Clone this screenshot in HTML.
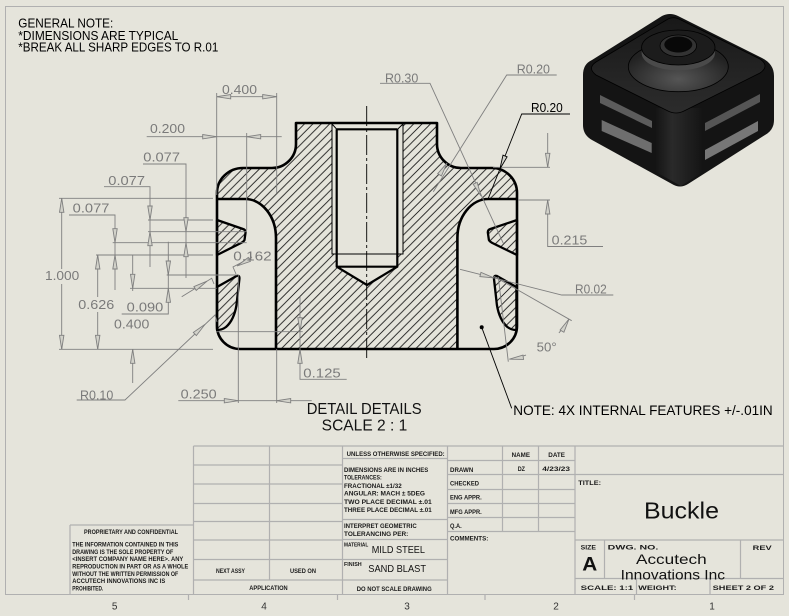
<!DOCTYPE html>
<html><head><meta charset="utf-8"><style>
html,body{margin:0;padding:0;background:#e5e4db;}
svg{display:block;}
text{font-family:"Liberation Sans",sans-serif;}
</style></head><body>
<svg width="789" height="616" viewBox="0 0 789 616" xmlns="http://www.w3.org/2000/svg">
<defs>
<pattern id="h" patternUnits="userSpaceOnUse" width="8.4" height="8.4"><path d="M-1,1 L1,-1 M0,8.4 L8.4,0 M7.4,9.4 L9.4,7.4" stroke="#111" stroke-width="0.8"/></pattern>
<path id="ar" d="M0,0 L-14,-2.2 L-14,2.2 Z" fill="#d2d2ca" stroke="#7f7f7f" stroke-width="0.9"/>
<path id="ak" d="M0,0 L-14,-2.2 L-14,2.2 Z" fill="#d2d2ca" stroke="#000" stroke-width="0.9"/>
<linearGradient id="tf" x1="0" y1="0" x2="0" y2="1"><stop offset="0" stop-color="#181818"/><stop offset="1" stop-color="#2c2c2c"/></linearGradient>
<radialGradient id="rg" cx="0.5" cy="0.75" r="0.6"><stop offset="0" stop-color="#555"/><stop offset="1" stop-color="#222"/></radialGradient>
<linearGradient id="fc" x1="0" y1="0" x2="1" y2="0"><stop offset="0" stop-color="#151515"/><stop offset="0.35" stop-color="#2a2a2a"/><stop offset="1" stop-color="#141414"/></linearGradient>
</defs>
<rect width="789" height="616" fill="#e5e4db"/>
<path d="M5.5,6.5 H783.5 V594.5 H5.5 Z" fill="none" stroke="#b0b0b0" stroke-width="1"/>

<g fill="#000" font-size="12.5">
<text x="18.3" y="27.3" textLength="95" lengthAdjust="spacingAndGlyphs">GENERAL NOTE:</text>
<text x="18.3" y="40" textLength="160" lengthAdjust="spacingAndGlyphs">*DIMENSIONS ARE TYPICAL</text>
<text x="18.3" y="51.7" textLength="200" lengthAdjust="spacingAndGlyphs">*BREAK ALL SHARP EDGES TO R.01</text>
</g>

<path fill="url(#h)" fill-rule="evenodd" d="M296,123 H437 V144 A24,24 0 0 0 461,168 H492 A25,25 0 0 1 517,193 V326 A23,23 0 0 1 494,349 H240 A23,23 0 0 1 217,326 V193 A26,25 0 0 1 243,168 H272 A24,24 0 0 0 296,144 Z
M217,199 H245 A31,39 0 0 1 276,238 V349 H240 A23,23 0 0 1 217,326 Z
M517,199 H488.4 A31,39 0 0 0 457.4,238 V349 H494 A23,23 0 0 0 517,326 Z
M332,123 H403 V254 H397.3 V266.7 L367,285 L336.7,266.7 V254 H332 Z"/>
<g fill="url(#h)" stroke="#000" stroke-width="2.3" stroke-linejoin="round">
<path d="M217,220 L243,229 Q246,230 245.5,233 L244.5,240 Q243.5,242 240,243.5 L217,255 Z"/>
<path d="M517,220 L490.4,229 Q487.4,230 487.9,233 L488.9,240 Q489.9,242 493.4,243.5 L517,255 Z"/>
<path d="M217,287 L236.5,276 Q239.8,274.8 239.4,279 L236.5,305 Q234,320 226,327 Q222,330 217,330 Z"/>
<path d="M516.4,287 L496.9,276 Q493.6,274.8 494,279 L496.9,305 Q499.4,320 507.4,327 Q511.4,330 516.4,330 Z"/>
</g>
<g fill="none" stroke="#000" stroke-width="2.6" stroke-linejoin="round">
<path d="M296,123 H437 V144 A24,24 0 0 0 461,168 H492 A25,25 0 0 1 517,193 V326 A23,23 0 0 1 494,349 H240 A23,23 0 0 1 217,326 V193 A26,25 0 0 1 243,168 H272 A24,24 0 0 0 296,144 Z"/>
<path d="M217,199 H245 A31,39 0 0 1 276,238 V349"/>
<path d="M517,199 H488.4 A31,39 0 0 0 457.4,238 V349"/>
</g>
<g fill="none" stroke="#000">
<path d="M332,123 V254 H403 V123 M332,124 L337,129.5 M403,124 L397.3,129.5" stroke-width="1"/>
<path d="M336.7,129.3 H397.3 M336.7,129.3 V266.7 H397.3 V129.3 M336.7,266.7 L367,285 L397.3,266.7" stroke-width="2.2" stroke-linejoin="round"/>
<path d="M366.7,106 V360" stroke-width="0.9" stroke-dasharray="20,3,3,3"/>
</g>

<g fill="none" stroke="#7f7f7f" stroke-width="0.9">
<path d="M216.7,93 V195 M276.7,93 V193 M216.7,96.7 H276.7"/>
<path d="M146.7,136.7 H281.7 M246.7,133 V230"/>
<path d="M143,164 H186 V278 M104,186.7 H150 V267 M69,215 H115 V290"/>
<path d="M59,198.3 H213 M148,220 H213 M148,231.7 H246.7 M112.7,242.7 H246.7 M96,255 H213 M166.7,275 H236.7 M130,288.3 H216.7 M59,349.3 H213 M216,331.7 H302.7"/>
<path d="M61.7,198.3 V269 M61.7,284 V349.3"/>
<path d="M97.7,255 V297 M97.7,312 V349.3"/>
<path d="M132.7,255 V291 M132.7,349 V383"/>
<path d="M168.3,241.7 V314 H121.7"/>
<path d="M300,296.7 V379.3 H346.7"/>
<path d="M238.3,275 V403 M276.7,349 V403 M178.3,400.7 H311.7"/>
<path d="M380,83.3 H430 L503.3,243.3"/>
<path d="M556.7,75 H506.7 L433.3,191.7"/>
<path d="M493,167.3 H550 M547.7,133 V167.3 M518,200 H550 M547.7,200 V246.5 H603"/>
<path d="M613.3,295 H561.7 L460,269.3"/>
<path d="M493.3,276 L571.7,320.7 M498.3,277 L508.3,361.7"/>
<path d="M509.4,359.2 A82,82 0 0 0 526,355.1 M558.9,332.9 A82,82 0 0 0 569,319"/>
<path d="M76.7,400 H125 L215,315 L217,322"/>
<path d="M181.7,296.7 L211.7,278.3 L214,284"/>
<path d="M252,257 L233,267 L236,274"/>
</g>
<g>
<use href="#ar" transform="translate(216.7,96.7) rotate(180)"/>
<use href="#ar" transform="translate(276.7,96.7)"/>
<use href="#ar" transform="translate(216.7,136.7)"/>
<use href="#ar" transform="translate(246.7,136.7) rotate(180)"/>
<use href="#ar" transform="translate(61.7,198.3) rotate(-90)"/>
<use href="#ar" transform="translate(61.7,349.3) rotate(90)"/>
<use href="#ar" transform="translate(186,231.7) rotate(90)"/>
<use href="#ar" transform="translate(186,242.7) rotate(-90)"/>
<use href="#ar" transform="translate(150,220) rotate(90)"/>
<use href="#ar" transform="translate(150,231.7) rotate(-90)"/>
<use href="#ar" transform="translate(115,242.7) rotate(90)"/>
<use href="#ar" transform="translate(115,255) rotate(-90)"/>
<use href="#ar" transform="translate(97.7,255) rotate(-90)"/>
<use href="#ar" transform="translate(97.7,349.3) rotate(90)"/>
<use href="#ar" transform="translate(132.7,288.3) rotate(90)"/>
<use href="#ar" transform="translate(132.7,349.3) rotate(-90)"/>
<use href="#ar" transform="translate(168.3,275) rotate(90)"/>
<use href="#ar" transform="translate(168.3,288.3) rotate(-90)"/>
<use href="#ar" transform="translate(300,331.7) rotate(90)"/>
<use href="#ar" transform="translate(300,349.3) rotate(-90)"/>
<use href="#ar" transform="translate(238.3,400.7)"/>
<use href="#ar" transform="translate(276.7,400.7) rotate(180)"/>
<use href="#ar" transform="translate(547.7,167.3) rotate(90)"/>
<use href="#ar" transform="translate(547.7,200) rotate(-90)"/>
<use href="#ar" transform="translate(481,196) rotate(65.4)"/>
<use href="#ar" transform="translate(447,163) rotate(-57.8)"/>
<use href="#ar" transform="translate(494,277.9) rotate(14.2)"/>
<use href="#ar" transform="translate(509.4,359.2) rotate(172)"/>
<use href="#ar" transform="translate(569,319) rotate(-60)"/>
<use href="#ar" transform="translate(205,324.4) rotate(-43.4)"/>
<use href="#ar" transform="translate(207,281.2) rotate(-31.5)"/>
<use href="#ar" transform="translate(237,266) rotate(152)"/>
</g>
<path d="M570,114 H521.7 L488.3,198.3" fill="none" stroke="#000" stroke-width="0.9"/>
<use href="#ak" transform="translate(499.9,169) rotate(111.6)"/>
<circle cx="481.7" cy="327.3" r="2" fill="#000"/>
<path d="M481.7,327.3 L511.7,408.3" stroke="#000" stroke-width="0.9"/>

<g fill="#7a7a7a" font-size="13">
<text x="222" y="94" textLength="35" lengthAdjust="spacingAndGlyphs">0.400</text>
<text x="150" y="133" textLength="35" lengthAdjust="spacingAndGlyphs">0.200</text>
<text x="143.3" y="161.7" textLength="36.7" lengthAdjust="spacingAndGlyphs">0.077</text>
<text x="108.3" y="185" textLength="36.7" lengthAdjust="spacingAndGlyphs">0.077</text>
<text x="72.7" y="212.7" textLength="36.7" lengthAdjust="spacingAndGlyphs">0.077</text>
<text x="45" y="280" textLength="34.3" lengthAdjust="spacingAndGlyphs">1.000</text>
<text x="78.3" y="309" textLength="36" lengthAdjust="spacingAndGlyphs">0.626</text>
<text x="126.7" y="311.7" textLength="36.6" lengthAdjust="spacingAndGlyphs">0.090</text>
<text x="114" y="328.3" textLength="35.3" lengthAdjust="spacingAndGlyphs">0.400</text>
<text x="233.3" y="260.7" textLength="38.4" lengthAdjust="spacingAndGlyphs">0.162</text>
<text x="80" y="399.3" textLength="33.3" lengthAdjust="spacingAndGlyphs">R0.10</text>
<text x="180.7" y="398.3" textLength="36" lengthAdjust="spacingAndGlyphs">0.250</text>
<text x="303.3" y="377.3" textLength="37.4" lengthAdjust="spacingAndGlyphs">0.125</text>
<text x="385" y="82.3" textLength="33.3" lengthAdjust="spacingAndGlyphs">R0.30</text>
<text x="516.7" y="73.3" textLength="33.3" lengthAdjust="spacingAndGlyphs">R0.20</text>
<text x="551.7" y="244.5" textLength="35.6" lengthAdjust="spacingAndGlyphs">0.215</text>
<text x="575" y="293.3" textLength="31.7" lengthAdjust="spacingAndGlyphs">R0.02</text>
<text x="536.7" y="351.7" textLength="20" lengthAdjust="spacingAndGlyphs">50°</text>
</g>
<text x="531" y="112" font-size="13" fill="#000" textLength="31.7" lengthAdjust="spacingAndGlyphs">R0.20</text>
<text x="513.3" y="415" font-size="14" fill="#000" textLength="259.4" lengthAdjust="spacingAndGlyphs">NOTE: 4X INTERNAL FEATURES +/-.01IN</text>
<text x="306.7" y="414" font-size="15.5" fill="#111" textLength="115" lengthAdjust="spacingAndGlyphs">DETAIL DETAILS</text>
<text x="321.7" y="430.7" font-size="15.5" fill="#111" textLength="85.6" lengthAdjust="spacingAndGlyphs">SCALE 2 : 1</text>

<g>
<path d="M662,16 Q670,12 678,16 L762,58 Q774,64 774,76 L774,120 Q774,130 765,135 L688,184 Q680,189 672,184 L592,140 Q583,135 583,125 L583,75 Q583,64 592,60 Z" fill="#141414"/>
<path d="M656,108 L703,108 L703,172 L681,186 L656,172 Z" fill="url(#fc)"/>
<path d="M668,19 Q674,16 681,20 L760,59 Q770,66 760,73 L684,111 Q676,115 668,111 L596,75 Q587,68 596,62 Z" fill="url(#tf)" stroke="#000" stroke-width="0.8"/>
<ellipse cx="678.3" cy="66.7" rx="50" ry="25" fill="url(#rg)" stroke="#000" stroke-width="0.8"/>
<ellipse cx="678.3" cy="53" rx="36.7" ry="17.5" fill="#4a4a4a"/>
<ellipse cx="678.3" cy="47.5" rx="36.7" ry="17.5" fill="#1c1c1c" stroke="#000" stroke-width="0.8"/>
<ellipse cx="678.3" cy="45.8" rx="18.3" ry="10.8" fill="#333" stroke="#000" stroke-width="0.8"/>
<ellipse cx="678.3" cy="44.5" rx="14" ry="8" fill="#080808"/>
<polygon points="600,95 652,121 652,128 600,103" fill="#5c5c5c"/>
<polygon points="601.7,120 651.7,143 651.7,153 601.7,131" fill="#6e6e6e"/>
<polygon points="705,123 760,94 760,102 705,131" fill="#555"/>
<polygon points="705,150 758,121 758,131 705,160" fill="#777"/>
</g>

<g stroke="#b0b0b0" stroke-width="1.2" fill="none">
<path d="M193.5,446 H783.5 M193.5,446 V594.5 M269.5,446 V580"/>
<path d="M193.5,465 H342.5 M193.5,484 H342.5 M193.5,503.5 H342.5 M193.5,521.5 H342.5 M193.5,540 H342.5 M193.5,559.5 H342.5 M193.5,580 H342.5"/>
<path d="M342.5,446 V594.5 M342.5,458.5 H447.5 M342.5,519.5 H447.5 M342.5,539.5 H447.5 M342.5,559.5 H447.5 M342.5,580 H447.5"/>
<path d="M447.5,446 V594.5 M447.5,460.5 H575 M447.5,474.5 H575 M447.5,489.5 H575 M447.5,503.5 H575 M447.5,517.5 H575 M447.5,531.5 H575"/>
<path d="M502.5,446 V531.5 M538.5,446 V531.5"/>
<path d="M575,446 V594.5 M575,474.5 H783.5 M575,540 H783.5 M575,578.5 H783.5"/>
<path d="M604.5,540 V578.5 M740.5,540 V578.5 M636.5,578.5 V594.5 M710,578.5 V594.5"/>
<path d="M70,525 H193.5 M70,525 V594.5"/>
<path d="M188.5,594.5 V600 M337.5,594.5 V600 M485,594.5 V600 M634.5,594.5 V600"/>
</g>

<g fill="#1a1a1a" font-size="6" font-weight="bold">
<text x="84" y="533.9" textLength="94" lengthAdjust="spacingAndGlyphs">PROPRIETARY AND CONFIDENTIAL</text>
<text x="72.3" y="546.5" textLength="106" lengthAdjust="spacingAndGlyphs">THE INFORMATION CONTAINED IN THIS</text>
<text x="72.3" y="553.9" textLength="101" lengthAdjust="spacingAndGlyphs">DRAWING IS THE SOLE PROPERTY OF</text>
<text x="72.3" y="561.2" textLength="111" lengthAdjust="spacingAndGlyphs">&lt;INSERT COMPANY NAME HERE&gt;. ANY</text>
<text x="72.3" y="568.5" textLength="116" lengthAdjust="spacingAndGlyphs">REPRODUCTION IN PART OR AS A WHOLE</text>
<text x="72.3" y="575.9" textLength="106" lengthAdjust="spacingAndGlyphs">WITHOUT THE WRITTEN PERMISSION OF</text>
<text x="72.3" y="583.2" textLength="93" lengthAdjust="spacingAndGlyphs">ACCUTECH INNOVATIONS INC IS</text>
<text x="72.3" y="590.5" textLength="31" lengthAdjust="spacingAndGlyphs">PROHIBITED.</text>
<text x="216" y="573.2" textLength="29" lengthAdjust="spacingAndGlyphs">NEXT ASSY</text>
<text x="290" y="573.2" textLength="26" lengthAdjust="spacingAndGlyphs">USED ON</text>
<text x="249.3" y="589.9" textLength="38.4" lengthAdjust="spacingAndGlyphs">APPLICATION</text>
<text x="346.7" y="456.2" textLength="98" lengthAdjust="spacingAndGlyphs">UNLESS OTHERWISE SPECIFIED:</text>
<text x="344" y="472.2" textLength="84.3" lengthAdjust="spacingAndGlyphs">DIMENSIONS ARE IN INCHES</text>
<text x="344" y="479.5" textLength="37.7" lengthAdjust="spacingAndGlyphs">TOLERANCES:</text>
<text x="344" y="487.9" textLength="57.7" lengthAdjust="spacingAndGlyphs">FRACTIONAL ±1/32</text>
<text x="344" y="495.5" textLength="81" lengthAdjust="spacingAndGlyphs">ANGULAR: MACH ± 5DEG</text>
<text x="344" y="503.9" textLength="87.7" lengthAdjust="spacingAndGlyphs">TWO PLACE DECIMAL ±.01</text>
<text x="344" y="512.2" textLength="87.7" lengthAdjust="spacingAndGlyphs">THREE PLACE DECIMAL ±.01</text>
<text x="344" y="527.9" textLength="72.7" lengthAdjust="spacingAndGlyphs">INTERPRET GEOMETRIC</text>
<text x="344" y="536.2" textLength="64.3" lengthAdjust="spacingAndGlyphs">TOLERANCING PER:</text>
<text x="344" y="546.5" textLength="24.3" lengthAdjust="spacingAndGlyphs" font-size="5">MATERIAL</text>
<text x="344" y="566.2" textLength="17.7" lengthAdjust="spacingAndGlyphs" font-size="5">FINISH</text>
<text x="356.7" y="591.2" textLength="75" lengthAdjust="spacingAndGlyphs">DO NOT SCALE DRAWING</text>
<text x="511.7" y="457.2" textLength="18.3" lengthAdjust="spacingAndGlyphs">NAME</text>
<text x="548.3" y="457.2" textLength="16.7" lengthAdjust="spacingAndGlyphs">DATE</text>
<text x="450" y="472.2" textLength="23.3" lengthAdjust="spacingAndGlyphs">DRAWN</text>
<text x="517.7" y="471.2" textLength="7.3" lengthAdjust="spacingAndGlyphs">DZ</text>
<text x="542.3" y="471.2" textLength="27.7" lengthAdjust="spacingAndGlyphs">4/23/23</text>
<text x="450" y="485.5" textLength="29" lengthAdjust="spacingAndGlyphs">CHECKED</text>
<text x="450" y="499.5" textLength="31.7" lengthAdjust="spacingAndGlyphs">ENG APPR.</text>
<text x="450" y="513.9" textLength="31.7" lengthAdjust="spacingAndGlyphs">MFG APPR.</text>
<text x="450" y="528.2" textLength="11.7" lengthAdjust="spacingAndGlyphs">Q.A.</text>
<text x="450" y="540.5" textLength="38.3" lengthAdjust="spacingAndGlyphs">COMMENTS:</text>
<text x="578.3" y="485" textLength="22.7" lengthAdjust="spacingAndGlyphs" font-size="6.5">TITLE:</text>
<text x="580.7" y="549.5" textLength="15.3" lengthAdjust="spacingAndGlyphs">SIZE</text>
<text x="607.7" y="549.5" textLength="50.6" lengthAdjust="spacingAndGlyphs" font-size="6.5">DWG. NO.</text>
<text x="752.7" y="550.2" textLength="19" lengthAdjust="spacingAndGlyphs" font-size="6.5">REV</text>
<text x="580.7" y="589.9" textLength="52.6" lengthAdjust="spacingAndGlyphs" font-size="6.5">SCALE: 1:1</text>
<text x="638.3" y="589.9" textLength="38.4" lengthAdjust="spacingAndGlyphs" font-size="6.5">WEIGHT:</text>
<text x="712.7" y="589.9" textLength="61.3" lengthAdjust="spacingAndGlyphs" font-size="6.5">SHEET 2 OF 2</text>
</g>
<g fill="#111">
<text x="371.7" y="553" font-size="10.5" textLength="53.3" lengthAdjust="spacingAndGlyphs">MILD STEEL</text>
<text x="368.3" y="572" font-size="10.5" textLength="57.7" lengthAdjust="spacingAndGlyphs">SAND BLAST</text>
<text x="644" y="518.3" font-size="23" textLength="75" lengthAdjust="spacingAndGlyphs">Buckle</text>
<text x="582.3" y="570.3" font-size="19" font-weight="bold" textLength="15" lengthAdjust="spacingAndGlyphs">A</text>
<text x="636" y="564" font-size="14" textLength="70.7" lengthAdjust="spacingAndGlyphs">Accutech</text>
<text x="620.7" y="579.3" font-size="14" textLength="104.3" lengthAdjust="spacingAndGlyphs">Innovations Inc</text>
</g>
<g fill="#333" font-size="10" text-anchor="middle">
<text x="114.7" y="609.5">5</text>
<text x="264" y="609.5">4</text>
<text x="407" y="609.5">3</text>
<text x="556" y="609.5">2</text>
<text x="712" y="609.5">1</text>
</g>
</svg>
</body></html>
